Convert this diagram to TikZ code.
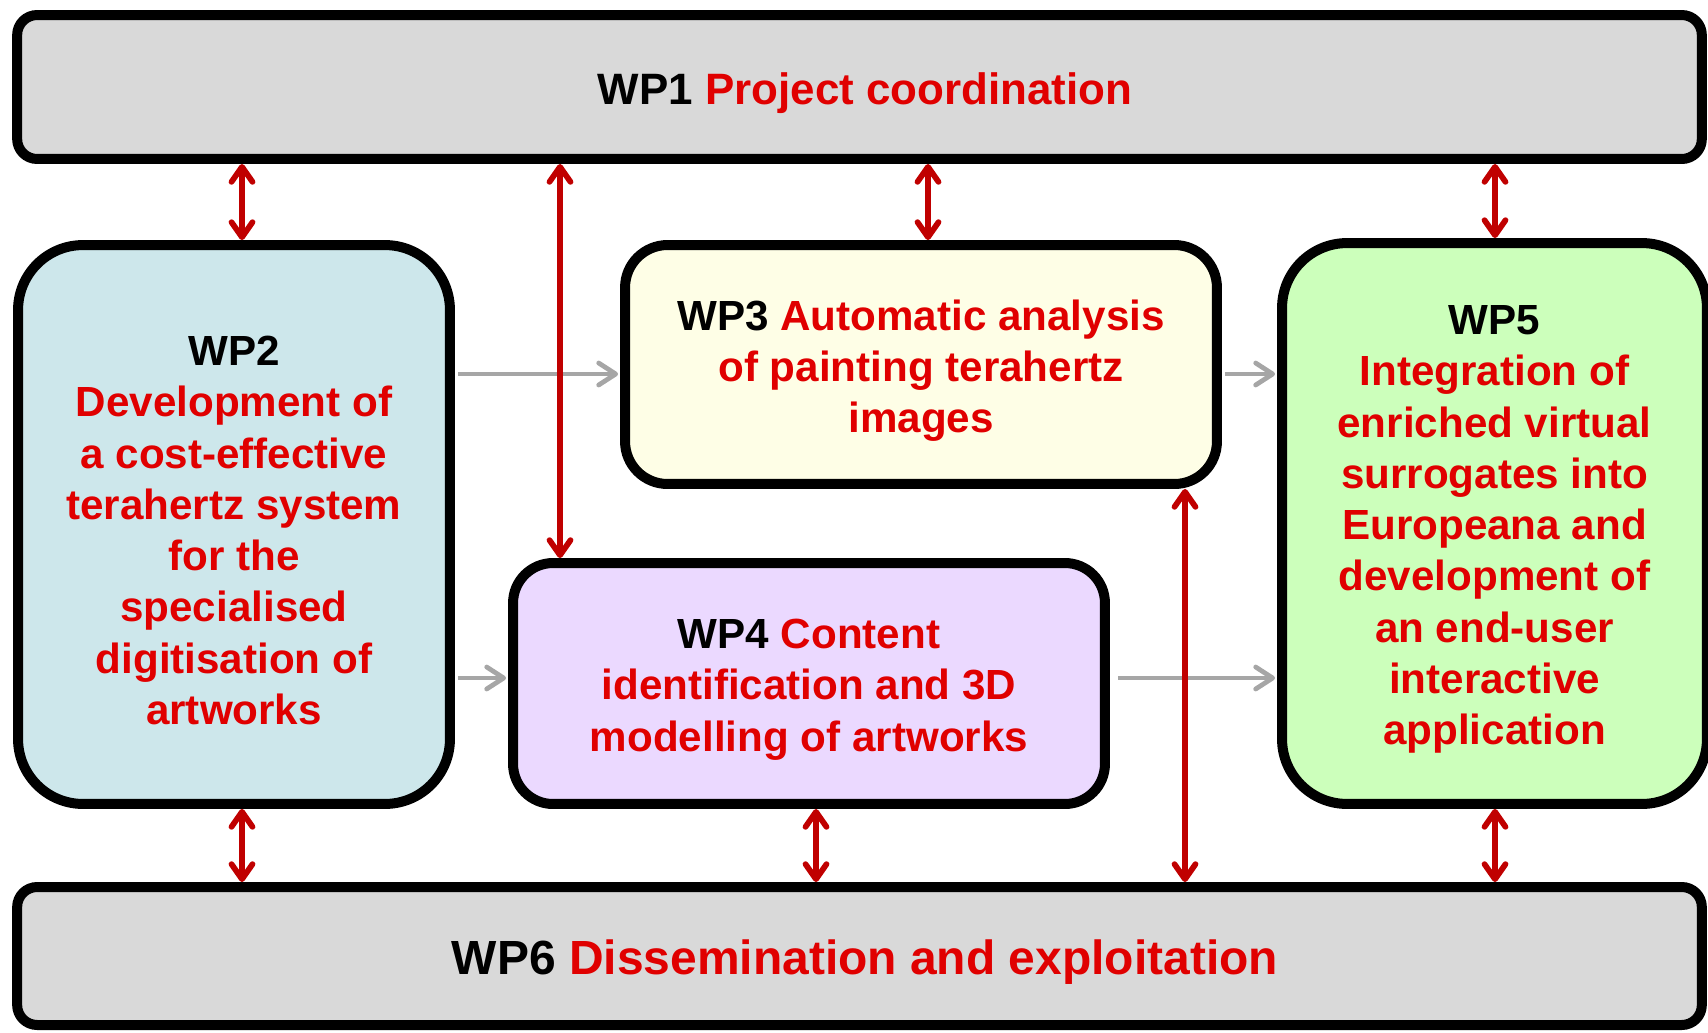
\documentclass[tikz,border=0pt]{standalone}
\usepackage{fontspec}
\setmainfont{Liberation Sans}
\usetikzlibrary{arrows.meta}

\definecolor{wpred}{RGB}{224,0,0}
\definecolor{arrred}{RGB}{192,0,0}
\definecolor{arrgray}{RGB}{166,166,166}
\definecolor{fillone}{RGB}{217,217,217}
\definecolor{filltwo}{RGB}{205,231,235}
\definecolor{fillthree}{RGB}{254,254,230}
\definecolor{fillfour}{RGB}{235,217,255}
\definecolor{fillfive}{RGB}{204,255,187}

\begin{document}
\begin{tikzpicture}[x=0.02cm,y=-0.02cm,
	wp/.style={draw=black,line width=0.2cm,inner sep=0pt},
	bar/.style={wp,fill=fillone,rounded corners=0.4cm,minimum width=33.7cm},
	wptext/.style={align=center,inner sep=0pt,text=wpred,yshift=-0.12cm,
		font=\bfseries\fontsize{24}{29.2}\selectfont},
	link/.style={arrred,line width=0.115cm,
		{Straight Barb[length=0.3cm,width=0.42cm,round]}-{Straight Barb[length=0.3cm,width=0.42cm,round]}},
	flow/.style={arrgray,line width=0.095cm,-{Straight Barb[length=0.34cm,width=0.44cm,round]},
		shorten <=0.06cm,shorten >=0.04cm}]

\useasboundingbox (0,0) rectangle (1708,1032);

% work packages
\node[bar] (wpone) at (859.5,87) [minimum height=2.88cm] {};
\node[bar] (wpsix) at (859.5,956) [minimum height=2.76cm] {};
\node[wp,fill=filltwo,rounded corners=1.3cm,minimum width=8.64cm,minimum height=11.18cm]
	(wptwo) at (234,524.5) {};
\node[wp,fill=fillthree,rounded corners=0.85cm,minimum width=11.84cm,minimum height=4.78cm]
	(wpthree) at (921,364.5) {};
\node[wp,fill=fillfour,rounded corners=0.8cm,minimum width=11.84cm,minimum height=4.82cm]
	(wpfour) at (809,683.5) {};
\node[wp,fill=fillfive,rounded corners=1.3cm,minimum width=8.5cm,minimum height=11.22cm]
	(wpfive) at (1494.5,523.5) {};

% titles
\node[wptext,xshift=0.11cm,font=\bfseries\fontsize{25}{30}\selectfont] (wponetext) at (wpone.center)
	{\textcolor{black}{WP1} Project coordination};
\node[wptext,xshift=0.11cm,font=\bfseries\fontsize{27.3}{32}\selectfont] (wpsixtext) at (wpsix.center)
	{\textcolor{black}{WP6} Dissemination and exploitation};
\node[wptext] (wptwotext) at (wptwo.center)
	{\textcolor{black}{WP2}\\Development of\\a cost-effective\\terahertz system\\for the\\specialised\\digitisation of\\artworks};
\node[wptext] (wpthreetext) at (wpthree.center)
	{\textcolor{black}{WP3} Automatic analysis\\of painting terahertz\\images};
\node[wptext] (wpfourtext) at (wpfour.center)
	{\textcolor{black}{WP4} Content\\identification and 3D\\modelling of artworks};
\node[wptext] (wpfivetext) at (wpfive.center)
	{\textcolor{black}{WP5}\\Integration of\\enriched virtual\\surrogates into\\Europeana and\\development of\\an end-user\\interactive\\application};

% where the arrows run
\coordinate (ya) at (0,374);
\coordinate (yb) at (0,678);
\coordinate (xa) at (242,0);  % wp2
\coordinate (xb) at (560,0);  % wp1 - wp4
\coordinate (xc) at (928,0);  % wp3
\coordinate (xd) at (816,0);  % wp4 - wp6
\coordinate (xe) at (1185,0); % wp3 - wp6
\coordinate (xf) at (1495,0); % wp5

\draw[flow] (wptwo.east |- ya) -- (wpthree.west |- ya);
\draw[flow] (wptwo.east |- yb) -- (wpfour.west |- yb);
\draw[flow] (wpthree.east |- ya) -- (wpfive.west |- ya);
\draw[flow,shorten <=0.16cm] (wpfour.east |- yb) -- (wpfive.west |- yb);

\draw[link] (wpone.south -| xa) -- (wptwo.north -| xa);
\draw[link] (wpone.south -| xb) -- (wpfour.north -| xb);
\draw[link] (wpone.south -| xc) -- (wpthree.north -| xc);
\draw[link] (wpone.south -| xf) -- (wpfive.north -| xf);

\draw[link] (wptwo.south -| xa) -- (wpsix.north -| xa);
\draw[link] (wpfour.south -| xd) -- (wpsix.north -| xd);
\draw[link] (wpthree.south -| xe) -- (wpsix.north -| xe);
\draw[link] (wpfive.south -| xf) -- (wpsix.north -| xf);

\end{tikzpicture}
\end{document}
